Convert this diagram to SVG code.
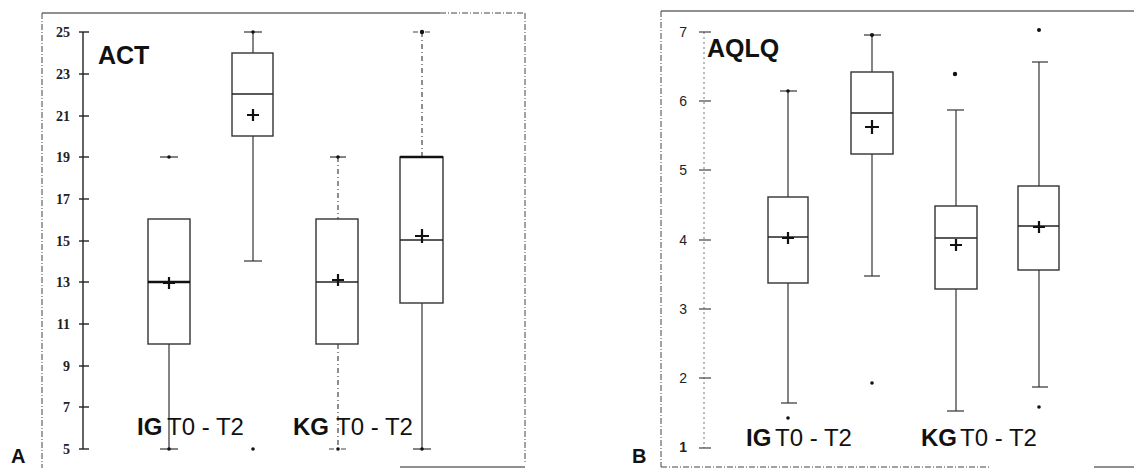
<svg xmlns="http://www.w3.org/2000/svg" width="1134" height="468" viewBox="0 0 1134 468">
<style>
.frame{fill:none;stroke:#222;stroke-width:1.2}
.dframe{fill:none;stroke:#444;stroke-width:1;stroke-dasharray:6 2 1 2}
.box{fill:#fff;stroke:#333;stroke-width:1.4}
.wh{stroke:#333;stroke-width:1.2;fill:none}
.whd{stroke:#444;stroke-width:1.2;fill:none;stroke-dasharray:5 3 1 3}
.med{stroke:#222;stroke-width:1.4}
.medb{stroke:#111;stroke-width:2.4}
.mean{stroke:#111;stroke-width:2.2;fill:none}
.tick{stroke:#222;stroke-width:1.4}
.dot{fill:#111}
.axl{font-family:"Liberation Serif",serif;font-weight:bold;font-size:14px;fill:#222;text-anchor:end}
.axr{font-family:"Liberation Sans",sans-serif;font-size:14px;fill:#222;text-anchor:end}
.title{font-family:"Liberation Sans",sans-serif;font-weight:bold;font-size:25px;fill:#111}
.grp{font-family:"Liberation Sans",sans-serif;font-size:24px;fill:#111}
.panel{font-family:"Liberation Sans",sans-serif;font-weight:bold;font-size:20px;fill:#111}
</style>

<!-- Panel A -->
<g id="panelA-frame">
<line class="frame" x1="42" y1="13" x2="440" y2="13"/>
<line class="dframe" x1="440" y1="13" x2="525" y2="13"/>
<line class="dframe" x1="42" y1="13" x2="42" y2="468" stroke="#222" stroke-width="1.3"/>
<line class="dframe" x1="525" y1="13" x2="525" y2="462" stroke-dasharray="2 2"/>
<line class="frame" x1="400" y1="467" x2="525" y2="467"/>
<text class="panel" x="11" y="463">A</text>
</g>
<g id="panelA-axis">
<line class="tick" x1="83" y1="32" x2="83" y2="449"/>
<g class="tick">
<line x1="79" y1="32" x2="89" y2="32"/>
<line x1="79" y1="74" x2="89" y2="74"/>
<line x1="79" y1="116" x2="89" y2="116"/>
<line x1="79" y1="157" x2="89" y2="157"/>
<line x1="79" y1="199" x2="89" y2="199"/>
<line x1="79" y1="241" x2="89" y2="241"/>
<line x1="79" y1="282" x2="89" y2="282"/>
<line x1="79" y1="324" x2="89" y2="324"/>
<line x1="79" y1="366" x2="89" y2="366"/>
<line x1="79" y1="407" x2="89" y2="407"/>
<line x1="79" y1="449" x2="89" y2="449"/>
</g>
<text class="axl" x="70" y="37">25</text>
<text class="axl" x="70" y="79">23</text>
<text class="axl" x="70" y="121">21</text>
<text class="axl" x="70" y="162">19</text>
<text class="axl" x="70" y="204">17</text>
<text class="axl" x="70" y="246">15</text>
<text class="axl" x="70" y="287">13</text>
<text class="axl" x="70" y="329">11</text>
<text class="axl" x="70" y="371">9</text>
<text class="axl" x="70" y="412">7</text>
<text class="axl" x="70" y="454">5</text>
<text class="title" x="98" y="64">ACT</text>
</g>

<g id="A-IG-T0">
<line class="wh" x1="169" y1="344" x2="169" y2="449"/>
<line class="wh" x1="160" y1="449" x2="178" y2="449"/>
<circle class="dot" cx="169" cy="449" r="1.8"/>
<line class="wh" x1="160" y1="157" x2="178" y2="157"/>
<circle class="dot" cx="169" cy="157" r="1.8"/>
<rect class="box" x="148" y="219" width="42" height="125"/>
<line class="medb" x1="148" y1="282" x2="190" y2="282"/>
<path class="mean" d="M163 283H175M169 277V289"/>
</g>
<g id="A-IG-T2">
<line class="wh" x1="253" y1="32" x2="253" y2="53"/>
<line class="wh" x1="244" y1="32" x2="262" y2="32"/>
<circle class="dot" cx="253" cy="32" r="1.8"/>
<line class="wh" x1="253" y1="136" x2="253" y2="261"/>
<line class="wh" x1="244" y1="261" x2="262" y2="261"/>
<circle class="dot" cx="253" cy="449" r="1.8"/>
<rect class="box" x="232" y="53" width="41" height="83"/>
<line class="med" x1="232" y1="94" x2="273" y2="94"/>
<path class="mean" d="M247 115H259M253 109V121"/>
</g>
<g id="A-KG-T0">
<line class="whd" x1="338" y1="157" x2="338" y2="219"/>
<line class="wh" x1="330" y1="157" x2="346" y2="157"/>
<circle class="dot" cx="338" cy="157" r="1.8"/>
<line class="whd" x1="338" y1="344" x2="338" y2="449"/>
<line class="whd" x1="329" y1="449" x2="347" y2="449"/>
<circle class="dot" cx="338" cy="449" r="1.8"/>
<rect class="box" x="316" y="219" width="42" height="125"/>
<line class="med" x1="316" y1="282" x2="358" y2="282"/>
<path class="mean" d="M332 280H344M338 274V286"/>
</g>
<g id="A-KG-T2">
<line class="whd" x1="422" y1="32" x2="422" y2="157"/>
<line class="whd" x1="413" y1="32" x2="431" y2="32"/>
<circle class="dot" cx="422" cy="32" r="2.2"/>
<line class="wh" x1="422" y1="303" x2="422" y2="449"/>
<line class="wh" x1="413" y1="449" x2="431" y2="449"/>
<circle class="dot" cx="422" cy="449" r="1.8"/>
<rect class="box" x="400" y="157" width="43" height="146"/>
<line class="medb" x1="400" y1="157" x2="443" y2="157"/>
<line class="med" x1="400" y1="240" x2="443" y2="240"/>
<path class="mean" d="M415 236H429M422 229V243"/>
</g>
<g id="A-labels">
<text class="grp" x="137" y="435"><tspan font-weight="bold">IG</tspan><tspan x="167">T0 - T2</tspan></text>
<text class="grp" x="293" y="435"><tspan font-weight="bold">KG</tspan><tspan x="336">T0 - T2</tspan></text>
</g>

<!-- Panel B -->
<g id="panelB-frame">
<line class="frame" x1="661" y1="11" x2="1134" y2="11"/>
<line class="dframe" x1="661" y1="11" x2="661" y2="467"/>
<line class="dframe" x1="661" y1="467" x2="990" y2="467"/>
<line class="frame" x1="1094" y1="467" x2="1134" y2="467"/>
<text class="panel" x="632" y="463">B</text>
</g>
<g id="panelB-axis">
<line x1="704" y1="32" x2="704" y2="448" stroke="#777" stroke-width="1" stroke-dasharray="2 3"/>
<g stroke="#444" stroke-width="1.2">
<line x1="699" y1="32" x2="711" y2="32"/>
<line x1="699" y1="101" x2="711" y2="101"/>
<line x1="699" y1="170" x2="711" y2="170"/>
<line x1="699" y1="240" x2="711" y2="240"/>
<line x1="699" y1="309" x2="711" y2="309"/>
<line x1="699" y1="378" x2="711" y2="378"/>
<line x1="699" y1="448" x2="711" y2="448"/>
</g>
<text class="axr" x="687" y="37">7</text>
<text class="axr" x="687" y="106">6</text>
<text class="axr" x="687" y="175">5</text>
<text class="axr" x="687" y="245">4</text>
<text class="axr" x="687" y="314">3</text>
<text class="axr" x="687" y="383">2</text>
<text class="axr" x="687" y="452" font-weight="bold" font-size="11px">1</text>
<text class="title" x="707" y="57">AQLQ</text>
</g>

<g id="B-IG-T0">
<line class="wh" x1="788" y1="91" x2="788" y2="197"/>
<line class="wh" x1="780" y1="91" x2="797" y2="91"/>
<circle class="dot" cx="788" cy="91" r="1.8"/>
<line class="wh" x1="788" y1="283" x2="788" y2="403"/>
<line class="wh" x1="781" y1="403" x2="797" y2="403"/>
<circle class="dot" cx="788" cy="418" r="1.8"/>
<rect class="box" x="768" y="197" width="40" height="86"/>
<line class="med" x1="768" y1="237" x2="808" y2="237"/>
<path class="mean" d="M782 238H794M788 232V244"/>
</g>
<g id="B-IG-T2">
<line class="wh" x1="872" y1="35" x2="872" y2="72" stroke="#666"/>
<line class="wh" x1="864" y1="35" x2="881" y2="35"/>
<circle class="dot" cx="872" cy="35" r="2"/>
<line class="wh" x1="872" y1="154" x2="872" y2="276" stroke="#666"/>
<line class="wh" x1="864" y1="276" x2="880" y2="276"/>
<circle class="dot" cx="872" cy="383" r="1.8"/>
<rect class="box" x="851" y="72" width="42" height="82"/>
<line class="med" x1="851" y1="113" x2="893" y2="113" stroke="#555"/>
<path class="mean" d="M865 127H879M872 120V134"/>
</g>
<g id="B-KG-T0">
<line class="wh" x1="956" y1="110" x2="956" y2="206"/>
<line class="wh" x1="947" y1="110" x2="964" y2="110"/>
<circle class="dot" cx="955" cy="74" r="2.2"/>
<line class="wh" x1="956" y1="289" x2="956" y2="411"/>
<line class="wh" x1="947" y1="411" x2="964" y2="411"/>
<rect class="box" x="935" y="206" width="42" height="83"/>
<line class="med" x1="935" y1="238" x2="977" y2="238"/>
<path class="mean" d="M950 245H962M956 239V251"/>
</g>
<g id="B-KG-T2">
<line class="wh" x1="1039" y1="62" x2="1039" y2="186"/>
<line class="wh" x1="1032" y1="62" x2="1048" y2="62"/>
<circle class="dot" cx="1039" cy="30" r="2"/>
<line class="wh" x1="1039" y1="270" x2="1039" y2="387" stroke="#666"/>
<line class="wh" x1="1032" y1="387" x2="1048" y2="387"/>
<circle class="dot" cx="1039" cy="407" r="1.8"/>
<rect class="box" x="1018" y="186" width="41" height="84"/>
<line class="med" x1="1018" y1="226" x2="1059" y2="226"/>
<path class="mean" d="M1033 227H1045M1039 221V233"/>
</g>
<g id="B-labels">
<text class="grp" x="746" y="446" font-size="25px"><tspan font-weight="bold">IG</tspan><tspan x="775">T0 - T2</tspan></text>
<text class="grp" x="921" y="446" font-size="25px"><tspan font-weight="bold">KG</tspan><tspan x="960">T0 - T2</tspan></text>
</g>
</svg>
